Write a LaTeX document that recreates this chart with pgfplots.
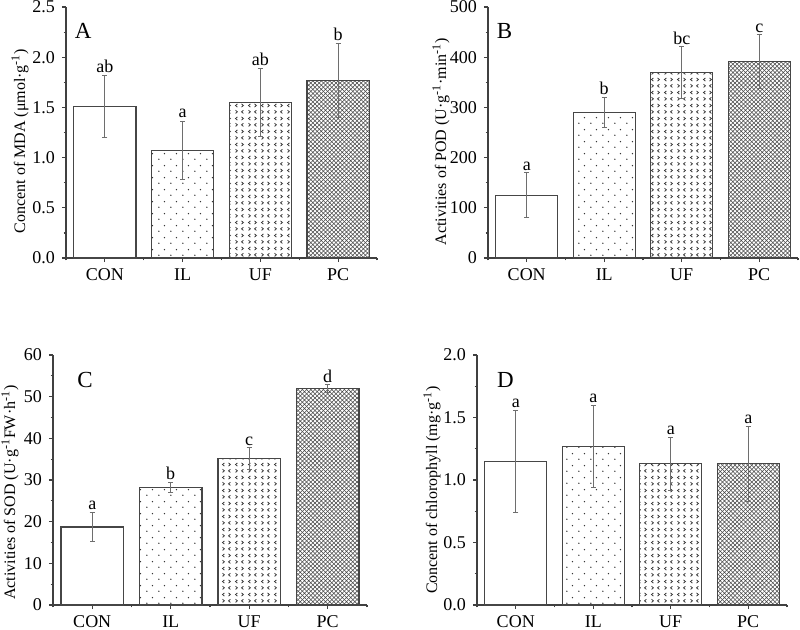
\documentclass[border=0pt]{standalone}
\usepackage{fontspec}
\setmainfont{Liberation Serif}
\usepackage{pgfplots}
\pgfplotsset{compat=1.18}
\usetikzlibrary{patterns}

\definecolor{axgray}{RGB}{64,64,64}
\definecolor{bargray}{RGB}{70,70,70}
\definecolor{errgray}{RGB}{110,110,110}
\definecolor{patgray}{RGB}{55,55,55}
\definecolor{hatchgray}{RGB}{70,70,70}

% sparse staggered dots (IL)
\pgfdeclarepatternformonly{sparsedots}{\pgfqpoint{0pt}{0pt}}{\pgfqpoint{6pt}{6pt}}{\pgfqpoint{6pt}{6pt}}{%
  \pgfpathcircle{\pgfqpoint{1.5pt}{1.5pt}}{0.4pt}%
  \pgfpathcircle{\pgfqpoint{4.5pt}{4.5pt}}{0.4pt}%
  \pgfusepath{fill}}
% chevrons < > (UF)
\pgfdeclarepatternformonly{chevrons}{\pgfqpoint{0pt}{0pt}}{\pgfqpoint{6.5pt}{6.4pt}}{\pgfqpoint{6.5pt}{6.4pt}}{%
  \pgfsetlinewidth{0.4pt}%
  \pgfpathmoveto{\pgfqpoint{0.8pt}{0.8pt}}\pgfpathlineto{\pgfqpoint{1.8pt}{1.6pt}}\pgfpathlineto{\pgfqpoint{0.8pt}{2.4pt}}%
  \pgfpathmoveto{\pgfqpoint{5pt}{0.8pt}}\pgfpathlineto{\pgfqpoint{4pt}{1.6pt}}\pgfpathlineto{\pgfqpoint{5pt}{2.4pt}}%
  \pgfpathmoveto{\pgfqpoint{1.8pt}{4pt}}\pgfpathlineto{\pgfqpoint{0.8pt}{4.8pt}}\pgfpathlineto{\pgfqpoint{1.8pt}{5.6pt}}%
  \pgfpathmoveto{\pgfqpoint{4pt}{4pt}}\pgfpathlineto{\pgfqpoint{5pt}{4.8pt}}\pgfpathlineto{\pgfqpoint{4pt}{5.6pt}}%
  \pgfusepath{stroke}}
% fine diagonal crosshatch (PC)
\pgfdeclarepatternformonly{xhatch}{\pgfqpoint{-0.1pt}{-0.1pt}}{\pgfqpoint{2.2pt}{2.2pt}}{\pgfqpoint{2.1pt}{2.1pt}}{%
  \pgfsetlinewidth{0.25pt}%
  \pgfpathmoveto{\pgfqpoint{0pt}{0pt}}\pgfpathlineto{\pgfqpoint{2.1pt}{2.1pt}}%
  \pgfpathmoveto{\pgfqpoint{0pt}{2.1pt}}\pgfpathlineto{\pgfqpoint{2.1pt}{0pt}}%
  \pgfusepath{stroke}}

\tikzset{tag/.style={font=\fontsize{11.5}{12}\selectfont}}
\pgfplotsset{
  panel/.style={scale only axis, anchor=south west, clip=false,
    xmin=-0.5, xmax=3.5, ymin=0,
    axis x line=bottom, axis y line=left,
    axis line style={-, line width=0.7pt, color=axgray},
    tick style={line width=0.6pt, color=axgray},
    tick align=outside, major tick length=2pt, minor tick length=1.2pt,
    xtick={0,1,2,3}, xticklabels={CON,IL,UF,PC},
    minor xtick={-0.5,0.5,1.5,2.5,3.5}, minor y tick num=1,
    ticklabel style={font=\fontsize{9}{10}\selectfont},
    /pgf/number format/assume math mode=true,
    ylabel style={font=\fontsize{8}{10}\selectfont, anchor=center}},
  mybar/.style 2 args={ybar, bar width=0.8, bar shift=0pt, draw=bargray, line width=0.7pt,
    postaction={pattern=#1, pattern color=#2},
    error bars/.cd, y dir=both, y explicit,
    error bar style={line width=0.5pt, color=errgray},
    error mark options={rotate=90, mark size=1.3pt, line width=0.5pt, color=errgray}},
  plainbar/.style={ybar, bar width=0.8, bar shift=0pt, draw=bargray, fill=white, line width=0.7pt,
    error bars/.cd, y dir=both, y explicit,
    error bar style={line width=0.5pt, color=errgray},
    error mark options={rotate=90, mark size=1.3pt, line width=0.5pt, color=errgray}},
  il/.style={mybar={sparsedots}{patgray}},
  uf/.style={mybar={chevrons}{patgray}},
  pc/.style={mybar={xhatch}{hatchgray}},
  letters/.style={draw=none, mark=none, nodes near coords, point meta=explicit symbolic,
    every node near coord/.style={anchor=south, inner sep=1pt, font=\fontsize{9}{10}\selectfont}}
}

\begin{document}
\begin{tikzpicture}
\useasboundingbox (0,0) rectangle (400pt,314.5pt);

% A
\begin{axis}[panel, at={(33pt,185.5pt)}, width=155.5pt, height=125.5pt,
  ymax=2.5, ytick distance=0.5,
  yticklabel style={/pgf/number format/.cd, fixed, fixed zerofill, precision=1},
  ylabel={Concent of MDA (μmol·g\textsuperscript{-1})},
  ylabel style={at={(axis description cs:0,0.466)}, yshift=23pt}]
\addplot[plainbar] coordinates {(0,1.51) +- (0,0.31)};
\addplot[il] coordinates {(1,1.07) +- (0,0.29)};
\addplot[uf] coordinates {(2,1.55) +- (0,0.34)};
\addplot[pc] coordinates {(3,1.77) +- (0,0.37)};
\addplot[letters] coordinates {(0,1.82)[ab] (1,1.37)[a] (2,1.89)[ab] (3,2.14)[b]};
\node[tag] at (axis description cs:0.055,0.906) {A};
\end{axis}

% B
\begin{axis}[panel, at={(244pt,185.5pt)}, width=155pt, height=125.5pt,
  ymax=500, ytick distance=100,
  ylabel={Activities of POD (U·g\textsuperscript{-1}·min\textsuperscript{-1})},
  ylabel style={at={(axis description cs:0,0.464)}, yshift=23.5pt}]
\addplot[plainbar] coordinates {(0,125) +- (0,45)};
\addplot[il] coordinates {(1,290) +- (0,30)};
\addplot[uf] coordinates {(2,369) +- (0,52)};
\addplot[pc] coordinates {(3,391) +- (0,54)};
\addplot[letters] coordinates {(0,170)[a] (1,320)[b] (2,421)[bc] (3,445)[c]};
\node[tag] at (axis description cs:0.053,0.906) {B};
\end{axis}

% C
\begin{axis}[panel, at={(26.5pt,12pt)}, width=157pt, height=125pt,
  ymax=60, ytick distance=10,
  ylabel={Activities of SOD (U·g\textsuperscript{-1}FW·h\textsuperscript{-1})},
  ylabel style={at={(axis description cs:0,0.45)}, yshift=21.5pt}]
\addplot[plainbar] coordinates {(0,18.7) +- (0,3.5)};
\addplot[il] coordinates {(1,28.2) +- (0,1.2)};
\addplot[uf] coordinates {(2,35.1) +- (0,2.6)};
\addplot[pc] coordinates {(3,52.0) +- (0,0.9)};
\addplot[letters] coordinates {(0,22.2)[a] (1,29.4)[b] (2,37.7)[c] (3,52.9)[d]};
\node[tag] at (axis description cs:0.102,0.9) {C};
\end{axis}

% D
\begin{axis}[panel, at={(238.5pt,12pt)}, width=155pt, height=125pt,
  ymax=2.0, ytick distance=0.5,
  yticklabel style={/pgf/number format/.cd, fixed, fixed zerofill, precision=1},
  ylabel={Concent of chlorophyll (mg·g\textsuperscript{-1})},
  ylabel style={at={(axis description cs:0,0.46)}, yshift=22.5pt}]
\addplot[plainbar] coordinates {(0,1.15) +- (0,0.41)};
\addplot[il] coordinates {(1,1.27) +- (0,0.33)};
\addplot[uf] coordinates {(2,1.13) +- (0,0.21)};
\addplot[pc] coordinates {(3,1.13) +- (0,0.30)};
\addplot[letters] coordinates {(0,1.56)[a] (1,1.60)[a] (2,1.34)[a] (3,1.43)[a]};
\node[tag] at (axis description cs:0.092,0.9) {D};
\end{axis}
\end{tikzpicture}
\end{document}
